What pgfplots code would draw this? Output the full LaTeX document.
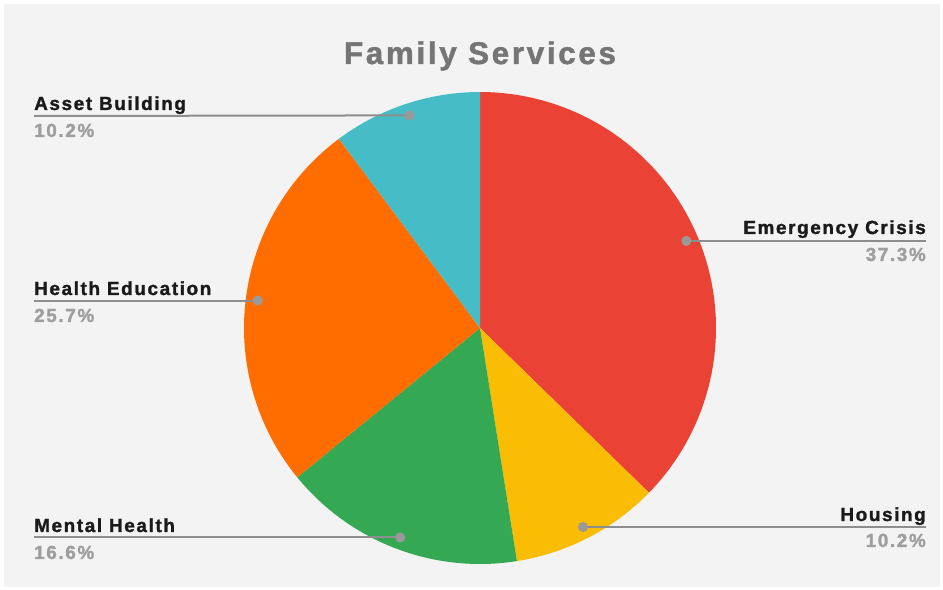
\documentclass[border=0pt]{standalone}
\usepackage{pgfplots}
\pgfplotsset{compat=1.18}
\usepackage{pgfplotstable}
\usepackage{fontspec}
\setmainfont{Liberation Sans}[BoldFeatures={LetterSpace=8.5,FakeBold=1.5}]
\definecolor{cEC}{HTML}{EA4335}
\definecolor{cH}{HTML}{FBBC04}
\definecolor{cMH}{HTML}{34A853}
\definecolor{cHE}{HTML}{FF6D01}
\definecolor{cAB}{HTML}{46BDC6}
\definecolor{bg}{HTML}{F3F3F3}
\definecolor{titlegray}{HTML}{757575}
\definecolor{namecol}{HTML}{1A1A1A}
\definecolor{pctcol}{HTML}{9E9E9E}
\definecolor{leadcol}{HTML}{8E8E8E}
\definecolor{dotcol}{HTML}{999999}

% slice values (percent), clockwise from 12 o'clock
\pgfplotstableread{
value col
37.3 cEC
10.2 cH
16.6 cMH
25.7 cHE
10.2 cAB
}\piedata

\begin{document}
\begin{tikzpicture}
\begin{axis}[
  scale only axis, width=943bp, height=590bp,
  xmin=0, xmax=943, ymin=0, ymax=590, y dir=reverse,
  hide axis, clip=false,
]
% background
\addplot[fill=white, draw=none] coordinates {(0,0) (943,0) (943,590) (0,590)} -- cycle;
\addplot[fill=bg, draw=none] coordinates {(4,4) (940,4) (940,587) (4,587)} -- cycle;

% pie wedges
\pgfplotstablegetrowsof{\piedata}
\pgfmathtruncatemacro\N{\pgfplotsretval-1}
\gdef\cumang{0}
\foreach \i in {0,...,\N}{
  \pgfplotstablegetelem{\i}{value}\of\piedata
  \let\val\pgfplotsretval
  \pgfplotstablegetelem{\i}{col}\of\piedata
  \let\col\pgfplotsretval
  \pgfmathsetmacro\angA{\cumang}
  \pgfmathsetmacro\angB{\cumang+3.6*\val}
  \xdef\cumang{\angB}
  \edef\temp{\noexpand\addplot[fill=\col, draw=none, domain=\angA:\angB, samples=90]
    ({480+236*sin(x)},{328-236*cos(x)}) -- (axis cs:480,328) -- cycle;}
  \temp
}

% leader lines with dots
\pgfplotsset{lead/.style={leadcol, line width=2bp, mark=*, mark indices={1},
  mark options={dotcol, fill=dotcol, draw=dotcol}, mark size=4bp}}
\addplot[lead] coordinates {(686.4,241) (926,241)};
\addplot[lead] coordinates {(583,527) (926,527)};
\addplot[lead] coordinates {(400.2,537.5) (34,537.5)};
\addplot[lead] coordinates {(257.7,300.6) (34,300.6)};
\addplot[lead] coordinates {(409.4,115.4) (34,116)};

% labels
\tikzset{nm/.style={font=\fontsize{19}{21}\selectfont\bfseries, text=namecol, inner sep=0pt},
         pc/.style={font=\fontsize{19}{21}\selectfont\bfseries, text=pctcol, inner sep=0pt}}
\node[nm, anchor=base east] at (axis cs:926,234) {Emergency Crisis};
\node[pc, anchor=base east] at (axis cs:926,261) {37.3\%};
\node[nm, anchor=base east] at (axis cs:926,521) {Housing};
\node[pc, anchor=base east] at (axis cs:926,547) {10.2\%};
\node[nm, anchor=base west] at (axis cs:34,532) {Mental Health};
\node[pc, anchor=base west] at (axis cs:34,559) {16.6\%};
\node[nm, anchor=base west] at (axis cs:34,295) {Health Education};
\node[pc, anchor=base west] at (axis cs:34,322) {25.7\%};
\node[nm, anchor=base west] at (axis cs:34,110) {Asset Building};
\node[pc, anchor=base west] at (axis cs:34,137) {10.2\%};

% title
\node[font=\fontsize{31.5}{34}\selectfont\bfseries, text=titlegray, anchor=base, inner sep=0pt]
  at (axis cs:480,64) {Family Services};
\end{axis}
\end{tikzpicture}
\end{document}
